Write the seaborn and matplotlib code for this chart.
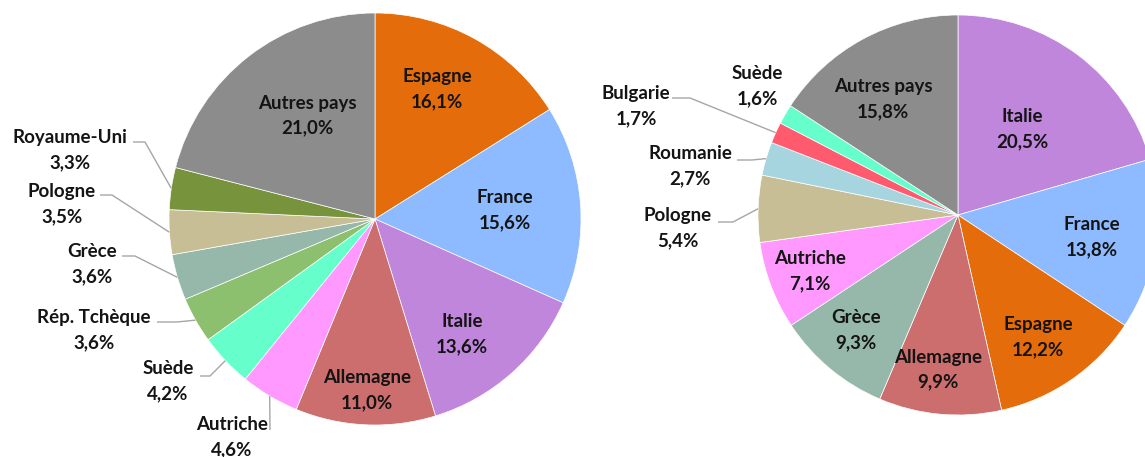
import numpy as np
import matplotlib
matplotlib.use("Agg")
import matplotlib.pyplot as plt
import seaborn as sns

# left pie
left_names = ["Espagne", "France", "Italie", "Allemagne", "Autriche", "Suède",
              "Rép. Tchèque", "Grèce", "Pologne", "Royaume-Uni", "Autres pays"]
left_vals = [16.1, 15.6, 13.6, 11.0, 4.6, 4.2, 3.6, 3.6, 3.5, 3.3, 21.0]
left_colors = ["#E46C0A", "#8EBAFF", "#BF86DC", "#CC6E6E", "#FF99FF", "#66FFCC",
               "#8CBF6E", "#96B8AA", "#C8BE96", "#77933C", "#8C8C8C"]

# right pie
right_names = ["Italie", "France", "Espagne", "Allemagne", "Grèce", "Autriche",
               "Pologne", "Roumanie", "Bulgarie", "Suède", "Autres pays"]
right_vals = [20.5, 13.8, 12.2, 9.9, 9.3, 7.1, 5.4, 2.7, 1.7, 1.6, 15.8]
right_colors = ["#BF86DC", "#8EBAFF", "#E46C0A", "#CC6E6E", "#96B8AA", "#FF99FF",
                "#C8BE96", "#A6D5E0", "#FF5A6E", "#66FFCC", "#8C8C8C"]

W, H = 1145, 457

# label layout (pixel coordinates, y from top)
left_inside = {"Espagne": (0.70, 3.5), "France": (0.63, 0), "Italie": (0.70, -4.4),
               "Allemagne": (0.83, 0), "Autres pays": (0.60, -4.6)}
left_outside = {"Royaume-Uni": ((70, 150), (133, 142), 12),
                "Pologne": ((62, 204), (100, 195), 12),
                "Grèce": ((92, 264), (122, 256), 13),
                "Rép. Tchèque": ((94, 330), (157, 322), 20),
                "Suède": ((168, 381), (200, 376), 10),
                "Autriche": ((232, 437), (270, 430), 0)}
right_inside = {"Italie": (0.535, 0), "France": (0.68, -0.7), "Espagne": (0.73, -1.3),
                "Allemagne": (0.78, -2.2), "Grèce": (0.77, -1.8), "Autriche": (0.79, 0),
                "Autres pays": (0.69, 4.5)}
right_outside = {"Suède": ((757, 86), None, 0),
                 "Bulgarie": ((636, 106), (672, 98), 18),
                 "Roumanie": ((690, 166), (737, 160), 15),
                 "Pologne": ((678, 228), (718, 222), 15)}

sns.set_theme(style="white")
plt.rcParams["font.family"] = ["Lato", "DejaVu Sans"]

fig = plt.figure(figsize=(W / 100, H / 100), dpi=100)
ax = fig.add_axes([0, 0, 1, 1])

TXT = "#141414"
FS = 13.5


def fmt(v):
    return f"{v:.1f}".replace(".", ",") + "%"


def two_lines(x, y, name, val):
    ax.text(x, H - y + 12.5, name, ha="center", va="center", fontsize=FS,
            fontweight="bold", color=TXT)
    ax.text(x, H - y - 12.5, fmt(val), ha="center", va="center", fontsize=FS,
            fontweight="bold", color=TXT)


def draw(names, vals, colors, center, radius, inside, outside):
    cx, cy = center[0], H - center[1]
    wedges, _ = ax.pie(vals, colors=colors, startangle=90, counterclock=False,
                       center=(cx, cy), radius=radius,
                       wedgeprops=dict(edgecolor="white", linewidth=0.5))
    for w, name, val in zip(wedges, names, vals):
        mid = (w.theta1 + w.theta2) / 2
        if name in inside:
            f, da = inside[name]
            a = np.deg2rad(mid + da)
            x = cx + f * radius * np.cos(a)
            y = cy + f * radius * np.sin(a)
            two_lines(x, H - y, name, val)
        else:
            (tx, ty), anchor, elbow = outside[name]
            two_lines(tx, ty, name, val)
            if anchor is not None:
                a = np.deg2rad(mid)
                ex = cx + radius * np.cos(a)
                ey = cy + radius * np.sin(a)
                ax.plot([anchor[0], anchor[0] + elbow, ex],
                        [H - anchor[1], H - anchor[1], ey],
                        color="#a6a6a6", lw=1, solid_capstyle="butt")


draw(left_names, left_vals, left_colors, (375, 219), 206, left_inside, left_outside)
draw(right_names, right_vals, right_colors, (958, 215), 200, right_inside, right_outside)

ax.set_xlim(0, W)
ax.set_ylim(0, H)
ax.set_aspect("equal")
ax.axis("off")
fig.savefig("out.png", dpi=100, facecolor="white")
